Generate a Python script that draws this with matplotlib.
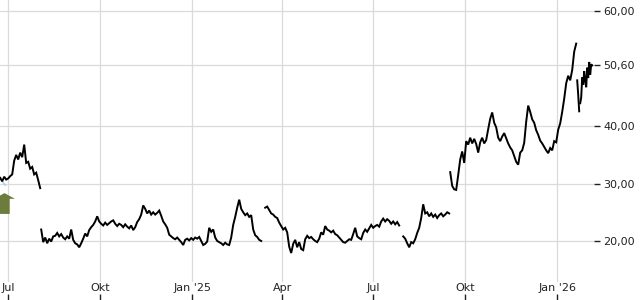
import numpy as np
import pandas as pd
import matplotlib
matplotlib.use("Agg")
import matplotlib.pyplot as plt
from matplotlib.path import Path

plt.rcParams["font.family"] = ["DejaVu Sans"]

# ---------------- data ----------------
tick_dates = ["2024-07-01", "2024-10-01", "2025-01-01", "2025-04-01",
              "2025-07-01", "2025-10-01", "2026-01-01"]
tick_labels = ["Jul", "Okt", "Jan '25", "Apr", "Jul", "Okt", "Jan '26"]
y_ticks = [20, 30, 40, 50.6, 60]
y_tick_labels = ["20,00", "30,00", "40,00", "50,60", "60,00"]

seg1_start = "2024-06-23"
seg1_values = [31.0, 30.4, 31.2, 30.7, 30.9, 31.3, 31.6, 34.0, 35.0, 34.2,
               35.4, 34.6, 36.8, 33.6, 33.8, 32.6, 32.9, 31.6, 31.9, 30.6,
               29.2]

seg2_start = "2024-08-03"
seg2_values = [22.0, 19.8, 20.6, 19.6, 20.4, 19.9, 20.8, 20.9, 21.4, 20.8,
               21.2, 20.6, 20.3, 20.8, 20.4, 22.0, 20.2, 19.6, 19.4, 18.9,
               19.6, 20.4, 21.3, 20.8, 21.9, 22.4, 22.8, 23.4, 24.3, 23.4,
               23.0, 22.7, 23.2, 22.8, 23.1, 23.4, 23.6, 23.0, 22.6, 23.0,
               22.8, 22.4, 22.9, 22.5, 22.2, 22.7, 21.9, 22.4, 23.3, 23.8,
               24.6, 26.2, 25.6, 24.8, 25.3, 24.6, 25.0, 24.6, 24.9, 25.3,
               24.4, 23.4, 22.9, 22.3, 21.1, 20.8, 20.5, 20.3, 20.6, 20.2,
               19.8, 19.3, 20.2, 20.4, 20.1, 20.5, 20.2, 20.6, 20.4, 20.7,
               20.0, 19.3, 19.5, 19.9, 22.3, 21.6, 22.0, 20.6, 20.0, 19.8,
               19.6, 19.3, 19.7, 19.4, 19.3, 20.6, 22.8, 24.2, 25.8, 27.2,
               25.6, 25.0, 24.5, 24.8, 24.2, 24.5, 22.0, 21.0, 20.7, 20.2,
               20.0, np.nan, 25.8, 26.0, 25.4, 24.8, 24.6, 24.2, 24.0, 23.2,
               22.6, 22.0, 22.3, 21.5, 19.0, 17.9, 19.5, 20.2, 18.9, 19.8,
               18.6, 18.4, 20.3, 20.9, 20.5, 20.7, 20.3, 20.0, 19.8, 20.4,
               21.5, 21.1, 22.6, 22.0, 21.8, 21.5, 21.8, 21.2, 21.0, 20.6,
               20.2, 19.8, 19.7, 20.0, 20.3, 20.2, 21.2, 22.3, 20.8, 20.5,
               20.3, 21.4, 22.0, 21.6, 22.2, 22.8, 22.3, 22.6, 22.8, 22.5,
               23.4, 23.9, 23.4, 23.8, 23.5, 23.0, 23.4, 22.9, 23.3, 22.7,
               np.nan, 20.8, 20.4, 19.6, 18.9, 19.8, 19.6, 20.3, 21.4, 22.3,
               24.0, 26.4, 24.8, 25.0, 24.3, 24.8, 24.2, 24.6, 24.0, 24.5,
               24.8, 24.3, 24.6, 25.0, 24.8]

seg3_start = "2025-09-16"
seg3_values = [32.0, 29.6, 29.0, 28.9, 31.5, 34.2, 35.6, 33.6, 37.4, 36.8,
               38.0, 37.0, 37.8, 36.9, 35.4, 37.2, 38.0, 37.0, 37.6, 39.5,
               41.3, 42.4, 40.6, 39.8, 38.0, 37.4, 38.2, 38.8, 37.9, 37.0,
               36.3, 35.8, 34.8, 33.8, 33.3, 35.4, 35.8, 37.1, 40.8, 43.6,
               42.5, 41.2, 40.6, 39.3, 38.5, 37.5, 37.0, 36.4, 35.8, 35.3,
               36.2, 35.8, 37.4, 37.2, 39.4, 40.5, 42.5, 44.8, 47.5, 48.8,
               48.0, 49.8, 53.0, 54.4]

seg4_start = "2026-01-21"
seg4_values = [48.0, 45.5, 42.6]

seg5_start = "2026-01-24"
seg5_values = [44.0, 45.0, 48.5, 47.2, 49.6, 48.0, 46.8, 50.2, 48.4, 51.2,
               49.0, 50.8, 50.6]

signal_line_dates = ["2024-06-21", "2024-06-28"]
signal_line_values = [31.4, 29.7]
buy_signal_date = "2024-06-27"
buy_signal_value = 26.7

# ---------------- figure ----------------
fig = plt.figure(figsize=(6.4, 3.0), dpi=100)
W, H = 640, 300
ax = fig.add_axes([0, 18 / H, 594 / W, 282 / H])

grid_c = "#dadada"
for s in ax.spines.values():
    s.set_visible(False)

segments = [(seg1_start, 2, seg1_values), (seg2_start, 2, seg2_values),
            (seg3_start, 2, seg3_values), (seg4_start, 1, seg4_values),
            (seg5_start, 1, seg5_values)]
for start, step, vals in segments:
    d = pd.date_range(start, periods=len(vals), freq=f"{step}D")
    ax.plot(d, vals, color="black", lw=1.4, solid_joinstyle="miter", zorder=3)

ax.plot(pd.to_datetime(signal_line_dates), signal_line_values,
        color="#9fd3e3", lw=1.0, zorder=2)

arrow = Path([(0, 1), (1.0, 0.45), (0.5, 0.45), (0.5, -1), (-0.5, -1),
              (-0.5, 0.45), (-1.0, 0.45), (0, 1)],
             [Path.MOVETO] + [Path.LINETO] * 6 + [Path.CLOSEPOLY])
ax.plot([pd.Timestamp(buy_signal_date)], [buy_signal_value], marker=arrow,
        markersize=15, color="#6b7c3c", markeredgewidth=0, zorder=4)

x0 = pd.Timestamp("2024-07-01") - pd.Timedelta(days=8.2)
ax.set_xlim(x0, x0 + pd.Timedelta(days=594))
ax.set_ylim(12.85, 62.0)

ax.set_xticks(pd.to_datetime(tick_dates))
ax.set_xticklabels(tick_labels)
ax.tick_params(axis="x", length=0, pad=0.5, labelsize=8, colors="#222222")

ax.yaxis.tick_right()
ax.set_yticks(y_ticks)
ax.set_yticklabels(y_tick_labels)
ax.tick_params(axis="y", length=4, width=1, pad=2.5, labelsize=8,
               colors="#222222")

ax.grid(True, color=grid_c, lw=0.9, zorder=0)
ax.set_axisbelow(True)

# tick marks below the month labels
ax2 = fig.add_axes([0, 0, 594 / W, 0.01], sharex=ax)
ax2.patch.set_visible(False)
for s in ax2.spines.values():
    s.set_visible(False)
ax2.tick_params(axis="x", direction="in", length=4, width=1, labelbottom=False,
                colors="#222222")
ax2.set_yticks([])

fig.savefig("out.png", dpi=100)
